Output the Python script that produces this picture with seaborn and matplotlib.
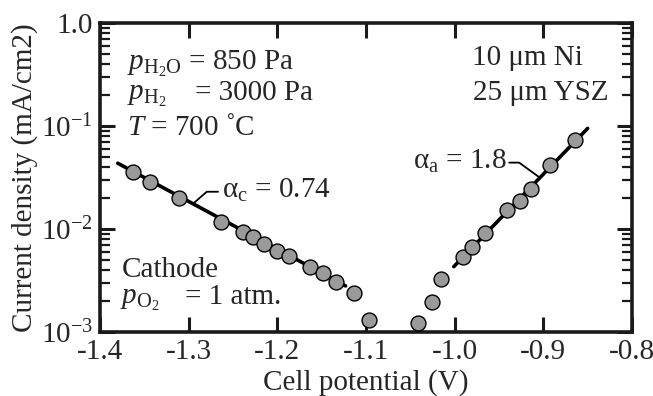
import matplotlib
matplotlib.use("Agg")
import matplotlib.pyplot as plt
import seaborn as sns
import pandas as pd
from matplotlib.ticker import FixedLocator, FixedFormatter, LogLocator, NullFormatter

# Cathodic branch: cell potential (V) and current density (mA/cm2)
cathode_v = [-1.363, -1.344, -1.311, -1.263, -1.2386, -1.2273, -1.2146, -1.2005,
             -1.1865, -1.1631, -1.1487, -1.1336, -1.1133, -1.0971]
cathode_j = [0.0360, 0.0284, 0.0199, 0.01178, 0.00929, 0.00830, 0.00723, 0.00618,
             0.00547, 0.00425, 0.00371, 0.00308, 0.00241, 0.00132]

# Anodic branch
anode_v = [-1.041, -1.0257, -1.0151, -0.9901, -0.9807, -0.966, -0.9413, -0.926,
           -0.9139, -0.8920, -0.8648]
anode_j = [0.00122, 0.00197, 0.00325, 0.00531, 0.00664, 0.00908, 0.01538, 0.0187,
           0.0247, 0.0418, 0.0731]

# Tafel fit lines (end points)
fit_c_v = [-1.380, -1.123]
fit_c_j = [0.0435, 0.0028]
fit_a_v = [-1.001, -0.850]
fit_a_j = [0.00431, 0.0948]

x_ticks = [-1.4, -1.3, -1.2, -1.1, -1.0, -0.9, -0.8]
x_labels = ["-1.4", "-1.3", "-1.2", "-1.1", "-1.0", "-0.9", "-0.8"]
y_ticks = [1e-3, 1e-2, 1e-1, 1.0]
y_labels = [r"10$^{-3}$", r"10$^{-2}$", r"10$^{-1}$", "1.0"]

sns.set_theme(style="ticks")
plt.rcParams.update({
    "font.family": ["Liberation Serif", "DejaVu Serif"],
    "mathtext.fontset": "custom",
    "mathtext.rm": "Liberation Serif",
    "mathtext.it": "Liberation Serif:italic",
    "mathtext.bf": "Liberation Serif:bold",
    "axes.unicode_minus": False,
    "font.size": 21,
})

fs = 21
fig = plt.figure(figsize=(6.53, 3.96), dpi=100)
ax = fig.add_axes([100 / 653, 1 - 332 / 396, 532 / 653, 309 / 396])
ax.set_yscale("log")

pts = pd.DataFrame({
    "v": cathode_v + anode_v,
    "j": cathode_j + anode_j,
})
fits = pd.DataFrame({
    "v": fit_c_v + fit_a_v,
    "j": fit_c_j + fit_a_j,
    "branch": ["c", "c", "a", "a"],
})

sns.lineplot(data=fits, x="v", y="j", units="branch", estimator=None, color="black",
             lw=2.6, ax=ax, zorder=2, legend=False, sort=False)
sns.scatterplot(data=pts, x="v", y="j", s=115, color="#9a9a9a", edgecolor="black",
                linewidth=1.0, ax=ax, zorder=3, clip_on=False)

ax.set_xlim(-1.4, -0.8)
ax.set_ylim(1e-3, 1.0)

ax.xaxis.set_major_locator(FixedLocator(x_ticks))
ax.xaxis.set_major_formatter(FixedFormatter(x_labels))
ax.yaxis.set_major_locator(FixedLocator(y_ticks))
ax.yaxis.set_major_formatter(FixedFormatter(y_labels))
ax.yaxis.set_minor_locator(LogLocator(base=10, subs=range(2, 10)))
ax.yaxis.set_minor_formatter(NullFormatter())

ax.tick_params(axis="both", which="major", direction="in", length=11, width=2.2,
               top=True, right=True, labelsize=fs, pad=5, color="#1a1a1a")
ax.tick_params(axis="y", which="minor", direction="in", length=7, width=1.6,
               left=True, right=True, color="#1a1a1a")
ax.tick_params(axis="x", which="minor", bottom=False, top=False)
for sp in ax.spines.values():
    sp.set_linewidth(2.6)
    sp.set_color("#1a1a1a")

ax.set_xlabel("Cell potential (V)", fontsize=fs, labelpad=3)
ax.set_ylabel("Current density (mA/cm2)", fontsize=fs, labelpad=2)

tr = ax.transAxes
ax.text(0.0508, 0.848, r"$p_{\mathrm{H_2O}}$ = 850 Pa", transform=tr, fontsize=fs, va="baseline")
ax.text(0.0508, 0.751, r"$p_{\mathrm{H_2}}$", transform=tr, fontsize=fs, va="baseline")
ax.text(0.1786, 0.751, "= 3000 Pa", transform=tr, fontsize=fs, va="baseline")
ax.text(0.0508, 0.6375, r"$T$ = 700 ˚C", transform=tr, fontsize=fs, va="baseline")
ax.text(0.908, 0.864, "10 μm Ni", transform=tr, fontsize=fs, va="baseline", ha="right")
ax.text(0.955, 0.751, "25 μm YSZ", transform=tr, fontsize=fs, va="baseline", ha="right")
ax.text(0.041, 0.177, "Cathode", transform=tr, fontsize=fs, va="baseline")
ax.text(0.0376, 0.09, r"$p_{\mathrm{O_2}}$", transform=tr, fontsize=fs, va="baseline")
ax.text(0.16, 0.09, "= 1 atm.", transform=tr, fontsize=fs, va="baseline")

# Tafel coefficient labels with leader lines
ax.text(-1.2627, 0.0236, r"α$_{\mathrm{c}}$ = 0.74", fontsize=fs, va="center", ha="left")
ax.annotate("", xy=(-1.2952, 0.01757), xytext=(-1.2669, 0.0230),
            arrowprops=dict(arrowstyle="-", lw=1.3, color="black", shrinkA=0, shrinkB=0,
                            connectionstyle="angle,angleA=0,angleB=41,rad=0"))
ax.text(-0.9410, 0.0452, r"α$_{\mathrm{a}}$ = 1.8", fontsize=fs, va="center", ha="right")
ax.annotate("", xy=(-0.9039, 0.0315), xytext=(-0.9385, 0.0441),
            arrowprops=dict(arrowstyle="-", lw=1.3, color="black", shrinkA=0, shrinkB=0,
                            connectionstyle="angle,angleA=0,angleB=-36,rad=0"))

fig.savefig("out.png", dpi=100)
